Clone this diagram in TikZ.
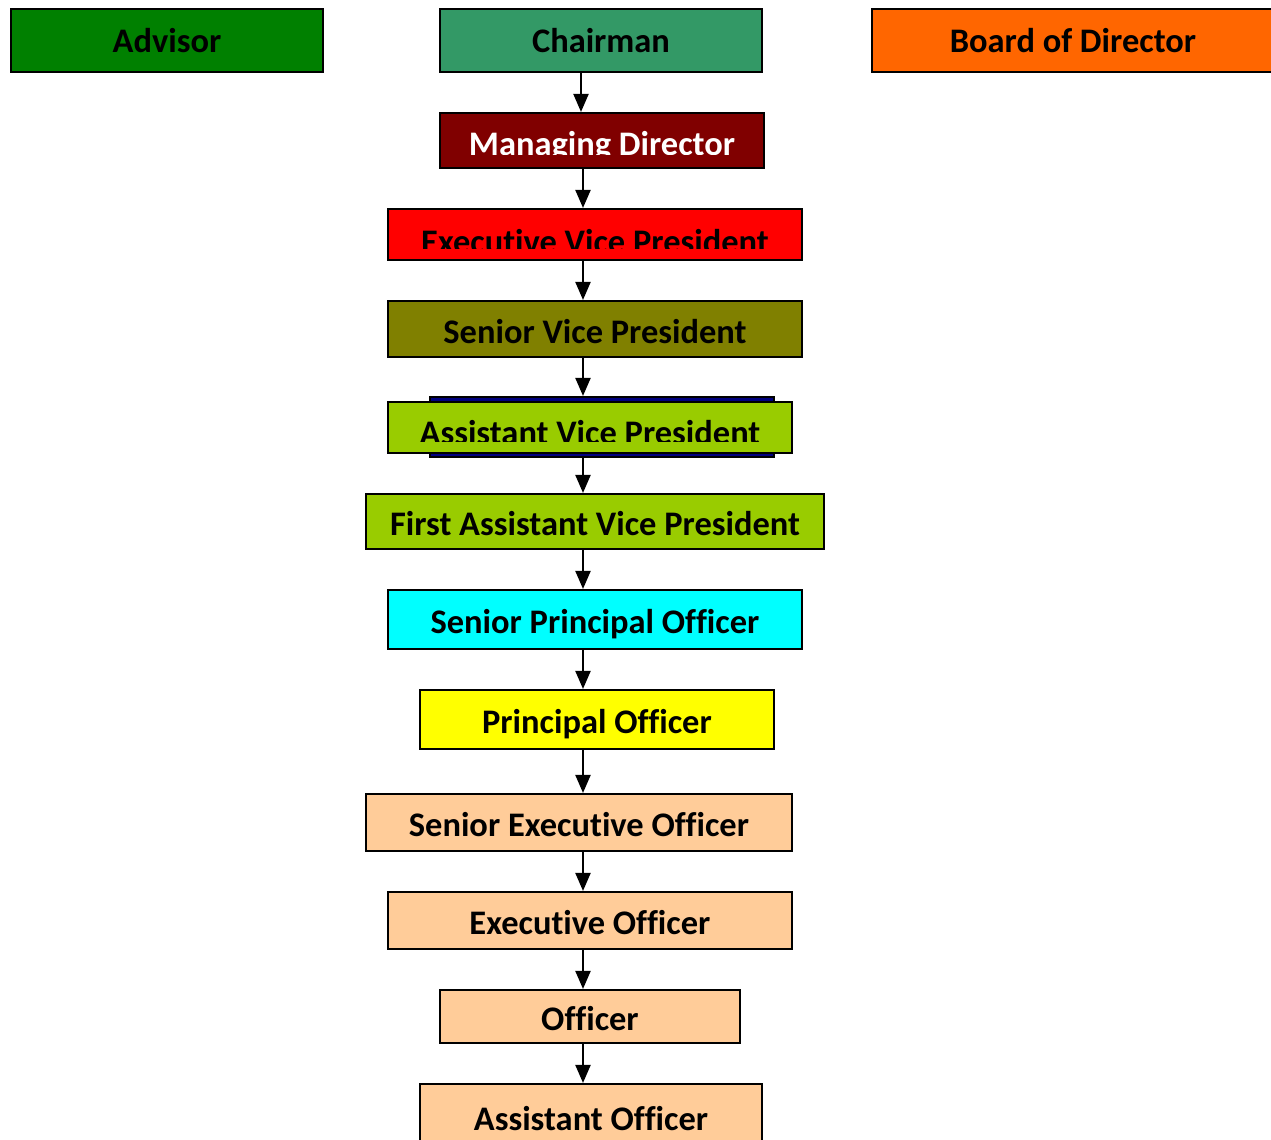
\documentclass[tikz,border=0pt]{standalone}
\usepackage{fontspec}
\setmainfont{Carlito}[Ligatures=NoCommon]
\usetikzlibrary{arrows.meta}

\definecolor{advisorgreen}{HTML}{008000}
\definecolor{chairgreen}{HTML}{339966}
\definecolor{boardorange}{HTML}{FF6600}
\definecolor{mdmaroon}{HTML}{800000}
\definecolor{evpred}{HTML}{FF0000}
\definecolor{svpolive}{HTML}{808000}
\definecolor{avplime}{HTML}{99CC00}
\definecolor{avpnavy}{HTML}{000080}
\definecolor{spocyan}{HTML}{00FFFF}
\definecolor{poyellow}{HTML}{FFFF00}
\definecolor{officerpeach}{HTML}{FFCC99}

\begin{document}
\begin{tikzpicture}[x=0.1mm,y=-0.1mm,
    box/.style={draw=black,line width=0.6pt,inner sep=0pt,
      text height=2.9mm,text depth=0pt,
      font=\fontsize{9.8}{12}\selectfont\bfseries},
    topbox/.style={box,text height=2.4mm,minimum height=6.3mm},
    boxtext/.style={inner sep=0pt,anchor=base,
      font=\fontsize{9.8}{12}\selectfont\bfseries},
    arr/.style={line width=0.6pt,-{Triangle[width=1.5mm,length=1.8mm]}}]
  \useasboundingbox (0,0) rectangle (1271,1140);

  % top row
  \node[topbox,fill=advisorgreen,minimum width=31.2mm] (advisor) at (167,40.5) {Advisor};
  \node[topbox,fill=chairgreen,minimum width=32.2mm] (chairman) at (601,40.5) {Chairman};
  \node[topbox,fill=boardorange,minimum width=40.2mm] (board) at (1073,40.5) {Board of Director};

  % the three boxes whose labels are cut off at the bottom
  \node[box,fill=mdmaroon,minimum width=32.4mm,minimum height=5.5mm] (md) at (602,140.5) {};
  \begin{scope}
    \clip (440,113) rectangle (764,155);
    \node[boxtext,text=white] (mdlabel) at (602,156) {Managing Director};
  \end{scope}
  \node[box,fill=evpred,minimum width=41.4mm,minimum height=5.1mm] (evp) at (595,234.5) {};
  \begin{scope}
    \clip (388,209) rectangle (802,249);
    \node[boxtext] (evplabel) at (595,254) {Executive Vice President};
  \end{scope}
  \node[box,fill=svpolive,minimum width=41.4mm,minimum height=5.6mm] (svp) at (595,329) {Senior Vice President};
  \node[box,fill=avpnavy,minimum width=34.4mm,minimum height=6.0mm] (avpback) at (602,427) {};
  \node[box,fill=avplime,minimum width=40.4mm,minimum height=5.1mm] (avp) at (590,427.5) {};
  \begin{scope}
    \clip (388,402) rectangle (792,442);
    \node[boxtext] (avplabel) at (590,445) {Assistant Vice President};
  \end{scope}

  % rest of the ladder
  \node[box,fill=avplime,minimum width=45.8mm,minimum height=5.5mm] (favp) at (595,521.5) {First Assistant Vice President};
  \node[box,fill=spocyan,minimum width=41.4mm,minimum height=5.9mm] (spo) at (595,619.5) {Senior Principal Officer};
  \node[box,fill=poyellow,minimum width=35.4mm,minimum height=5.9mm] (po) at (597,719.5) {Principal Officer};
  \node[box,fill=officerpeach,minimum width=42.6mm,minimum height=5.7mm] (seo) at (579,822.5) {Senior Executive Officer};
  \node[box,fill=officerpeach,minimum width=40.4mm,minimum height=5.7mm] (eo) at (590,920.5) {Executive Officer};
  \node[box,fill=officerpeach,minimum width=30.0mm,minimum height=5.3mm] (officer) at (590,1016.5) {Officer};
  \node[box,fill=officerpeach,minimum width=34.2mm,minimum height=6.4mm] (ao) at (591,1116) {Assistant Officer};

  \coordinate (top) at (581,0);
  \coordinate (spine) at (583,0);
  \draw[arr] (chairman.south -| top) -- (md.north -| top);
  \draw[arr] (md.south -| spine) -- (evp.north -| spine);
  \draw[arr] (evp.south -| spine) -- (svp.north -| spine);
  \draw[arr] (svp.south -| spine) -- (avpback.north -| spine);
  \draw[arr] (avpback.south -| spine) -- (favp.north -| spine);
  \draw[arr] (favp.south -| spine) -- (spo.north -| spine);
  \draw[arr] (spo.south -| spine) -- (po.north -| spine);
  \draw[arr] (po.south -| spine) -- (seo.north -| spine);
  \draw[arr] (seo.south -| spine) -- (eo.north -| spine);
  \draw[arr] (eo.south -| spine) -- (officer.north -| spine);
  \draw[arr] (officer.south -| spine) -- (ao.north -| spine);
\end{tikzpicture}
\end{document}
